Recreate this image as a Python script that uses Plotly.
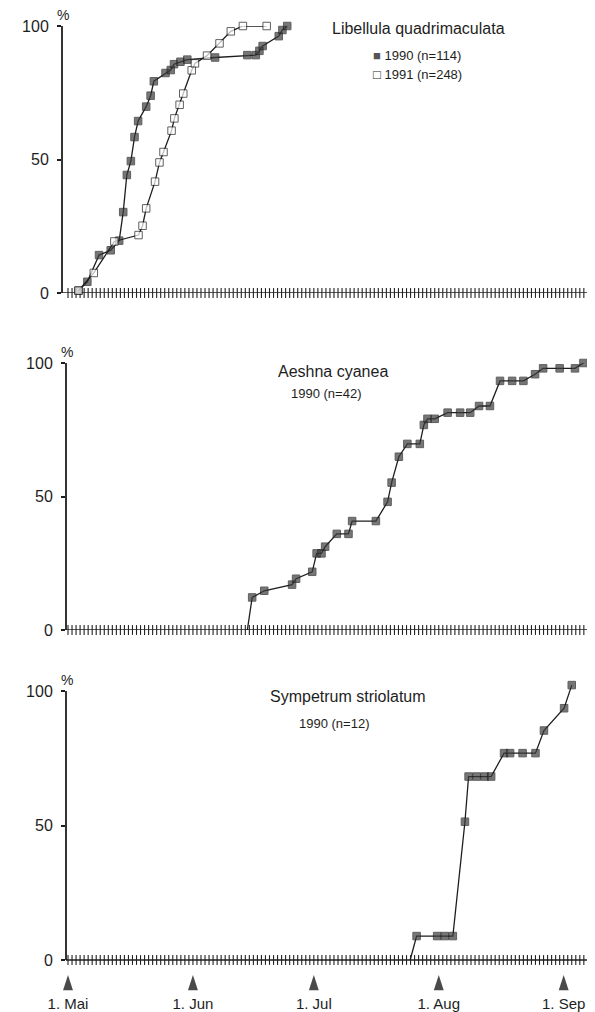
import plotly.graph_objects as go

# ---------------- data (day 0 = 1 May) ----------------
# Libellula quadrimaculata, cumulative emergence (%)
lib90_day = [2.6, 4.8, 7.7, 10.6, 12.7, 13.7, 14.6, 15.6, 16.5, 17.4, 19.4, 20.5, 21.3,
             24.2, 25.5, 26.3, 27.9, 29.6, 36.5, 44.5, 46.6, 47.5, 48.3, 52.3, 53.2, 54.4]
lib90_pct = [0.9, 4.2, 14.2, 16.0, 19.6, 30.3, 44.2, 49.4, 58.4, 64.4, 69.8, 73.9, 79.3,
             82.4, 83.5, 85.7, 86.6, 87.4, 88.2, 89.1, 89.1, 90.7, 92.5, 96.2, 98.5, 100.0]
lib91_day = [2.6, 6.4, 11.5, 17.5, 18.5, 19.4, 21.6, 22.7, 23.7, 25.7, 26.4, 27.7, 28.6,
             30.7, 31.5, 34.5, 37.6, 40.4, 43.4, 49.3]
lib91_pct = [0.9, 7.5, 19.3, 21.7, 25.2, 31.7, 41.7, 48.9, 52.8, 60.8, 65.4, 70.5, 74.7,
             83.4, 86.0, 88.9, 93.5, 98.0, 100.0, 100.0]

# Aeshna cyanea 1990 (n=42)
aes_day = [44.5, 45.7, 48.7, 55.6, 56.6, 60.6, 61.7, 62.9, 63.8, 66.7, 69.6, 70.5, 76.4,
           79.3, 80.3, 82.1, 84.2, 87.3, 88.3, 89.2, 91.0, 94.2, 97.3, 99.8, 102.0, 104.7,
           107.2, 110.2, 113.0, 115.9, 117.9, 122.0, 125.8, 127.9]
aes_pct = [0.0, 12.2, 14.7, 17.0, 19.2, 21.8, 28.7, 28.7, 31.2, 36.0, 36.0, 40.8, 40.8,
           48.0, 55.2, 64.9, 69.7, 69.7, 76.8, 79.1, 79.1, 81.4, 81.4, 81.4, 83.9, 83.9,
           93.3, 93.3, 93.3, 95.8, 98.0, 98.0, 98.0, 100.0]

# Sympetrum striolatum 1990 (n=12)
sym_day = [84.9, 86.5, 91.6, 93.5, 95.5, 98.5, 99.4, 101.4, 103.4, 105.0, 108.2, 109.7,
           112.8, 116.0, 118.1, 123.1, 125.0]
sym_pct = [0.0, 8.9, 8.9, 8.9, 8.9, 51.4, 68.2, 68.2, 68.2, 68.2, 76.9, 76.9,
           76.9, 76.9, 85.3, 93.6, 102.2]

month_days = [0, 31, 61, 92, 123]
month_labels = ["1. Mai", "1. Jun", "1. Jul", "1. Aug", "1. Sep"]
ytick_vals = [0, 50, 100]
day_ticks = list(range(0, 131))

# ---------------- layout helpers ----------------
REF_W, REF_H = 595, 1012
OFF = 8                      # page body margin of the html output
W, H = REF_W - OFF, REF_H - OFF
DAY0_PX, PX_PER_DAY = 68.0, 4.03
FONT = "Liberation Sans, Arial, Helvetica, sans-serif"
INK = "#1e1e1e"

def fx(px):   # reference x pixel -> paper fraction
    return (px - OFF) / W

def fy(py):   # reference y pixel -> paper fraction
    return 1 - (py - OFF) / H

# panel geometry: (y-axis x px, y px of 0, y px of 100, y range)
panels = [(62, 293, 26, (0, 100)), (66, 630, 363, (0, 100)), (66, 960, 691, (-8, 104))]

fig = go.Figure()

def series(day, pct, xa, ya, filled, first_hidden=False):
    sizes = [7.5] * len(day)
    if first_hidden:
        sizes[0] = 0
    fig.add_trace(go.Scatter(
        x=day, y=pct, xaxis=xa, yaxis=ya, mode="lines+markers",
        line=dict(color=INK, width=1.3),
        marker=dict(symbol="square", size=sizes,
                    color="#3d3d3d" if filled else "white",
                    line=dict(color=INK, width=1)),
        cliponaxis=False, showlegend=False, hoverinfo="skip"))

# daily ticks crossing the x axis
for i in range(3):
    sfx = "" if i == 0 else str(i + 1)
    fig.add_trace(go.Scatter(
        x=day_ticks, y=[0] * len(day_ticks), xaxis="x" + sfx, yaxis="y" + sfx,
        mode="markers",
        marker=dict(symbol="line-ns", size=7, line=dict(color="#222", width=1.1)),
        cliponaxis=False, showlegend=False, hoverinfo="skip"))

series(lib90_day, lib90_pct, "x", "y", True)
series(lib91_day, lib91_pct, "x", "y", False)
series(aes_day, aes_pct, "x2", "y2", True, first_hidden=True)
series(sym_day, sym_pct, "x3", "y3", True, first_hidden=True)

# month arrows below bottom axis
fig.add_trace(go.Scatter(
    x=month_days, y=[-5.6] * len(month_days), xaxis="x3", yaxis="y3", mode="markers",
    marker=dict(symbol="arrow", size=16, color="#4a4a4a", line=dict(width=0)),
    cliponaxis=False, showlegend=False, hoverinfo="skip"))

layout = dict(width=W, height=H, margin=dict(l=0, r=0, t=0, b=0, autoexpand=False),
              paper_bgcolor="white", plot_bgcolor="white",
              font=dict(family=FONT, color=INK), showlegend=False)

annotations, shapes = [], []
for i, (ax_px, y0_px, y100_px, (lo, hi)) in enumerate(panels):
    sfx = "" if i == 0 else str(i + 1)
    px_per_pct = (y0_px - y100_px) / 100.0
    bot_px = y0_px - lo * px_per_pct
    top_px = y100_px - (hi - 100) * px_per_pct
    layout["xaxis" + sfx] = dict(
        domain=[fx(ax_px), 1],
        range=[(ax_px - DAY0_PX) / PX_PER_DAY, (REF_W - DAY0_PX) / PX_PER_DAY],
        automargin=False, anchor="y" + sfx, showline=False,
        showgrid=False, zeroline=False, ticks="",
        tickvals=month_days if i == 2 else [],
        ticktext=month_labels if i == 2 else [],
        showticklabels=(i == 2), tickfont=dict(size=15, color=INK),
        ticklabelstandoff=11)
    layout["yaxis" + sfx] = dict(
        domain=[fy(bot_px), fy(top_px)], range=[lo, hi], automargin=False,
        anchor="x" + sfx, showline=False,
        showgrid=False, zeroline=False, ticks="outside", ticklen=4, tickwidth=1.5,
        tickcolor=INK, tickvals=ytick_vals, tickfont=dict(size=16, color=INK),
        ticklabelstandoff=5)
    # axis lines from 0 to 100 %
    shapes.append(dict(type="line", xref=f"x{sfx} domain", yref="y" + sfx,
                       x0=0, x1=0, y0=0, y1=100, layer="below",
                       line=dict(color=INK, width=1.8)))
    shapes.append(dict(type="line", xref=f"x{sfx} domain", yref="y" + sfx,
                       x0=0, x1=1, y0=0, y1=0, layer="below",
                       line=dict(color=INK, width=1.5)))
    annotations.append(dict(text="%", xref="paper", yref="paper",
                            x=fx(ax_px + 0.5), y=fy(y100_px - 11),
                            xanchor="center", yanchor="middle", showarrow=False,
                            font=dict(size=14, color=INK)))

def label(text, px, py, size, xanchor="center"):
    annotations.append(dict(text=text, xref="paper", yref="paper", x=fx(px), y=fy(py),
                            xanchor=xanchor, yanchor="middle", showarrow=False,
                            font=dict(size=size, color=INK)))

label("Libellula quadrimaculata", 418, 29, 16)
label('<span style="color:#555">■</span> 1990 (n=114)', 371, 56, 13, "left")
label("□ 1991 (n=248)", 371, 75, 13, "left")
label("Aeshna cyanea", 333, 371, 16)
label("1990 (n=42)", 326, 393, 13)
label("Sympetrum striolatum", 348, 696, 16)
label("1990 (n=12)", 334, 723, 13)

layout["annotations"] = annotations
layout["shapes"] = shapes
fig.update_layout(**layout)
fig.write_html("out.html")
